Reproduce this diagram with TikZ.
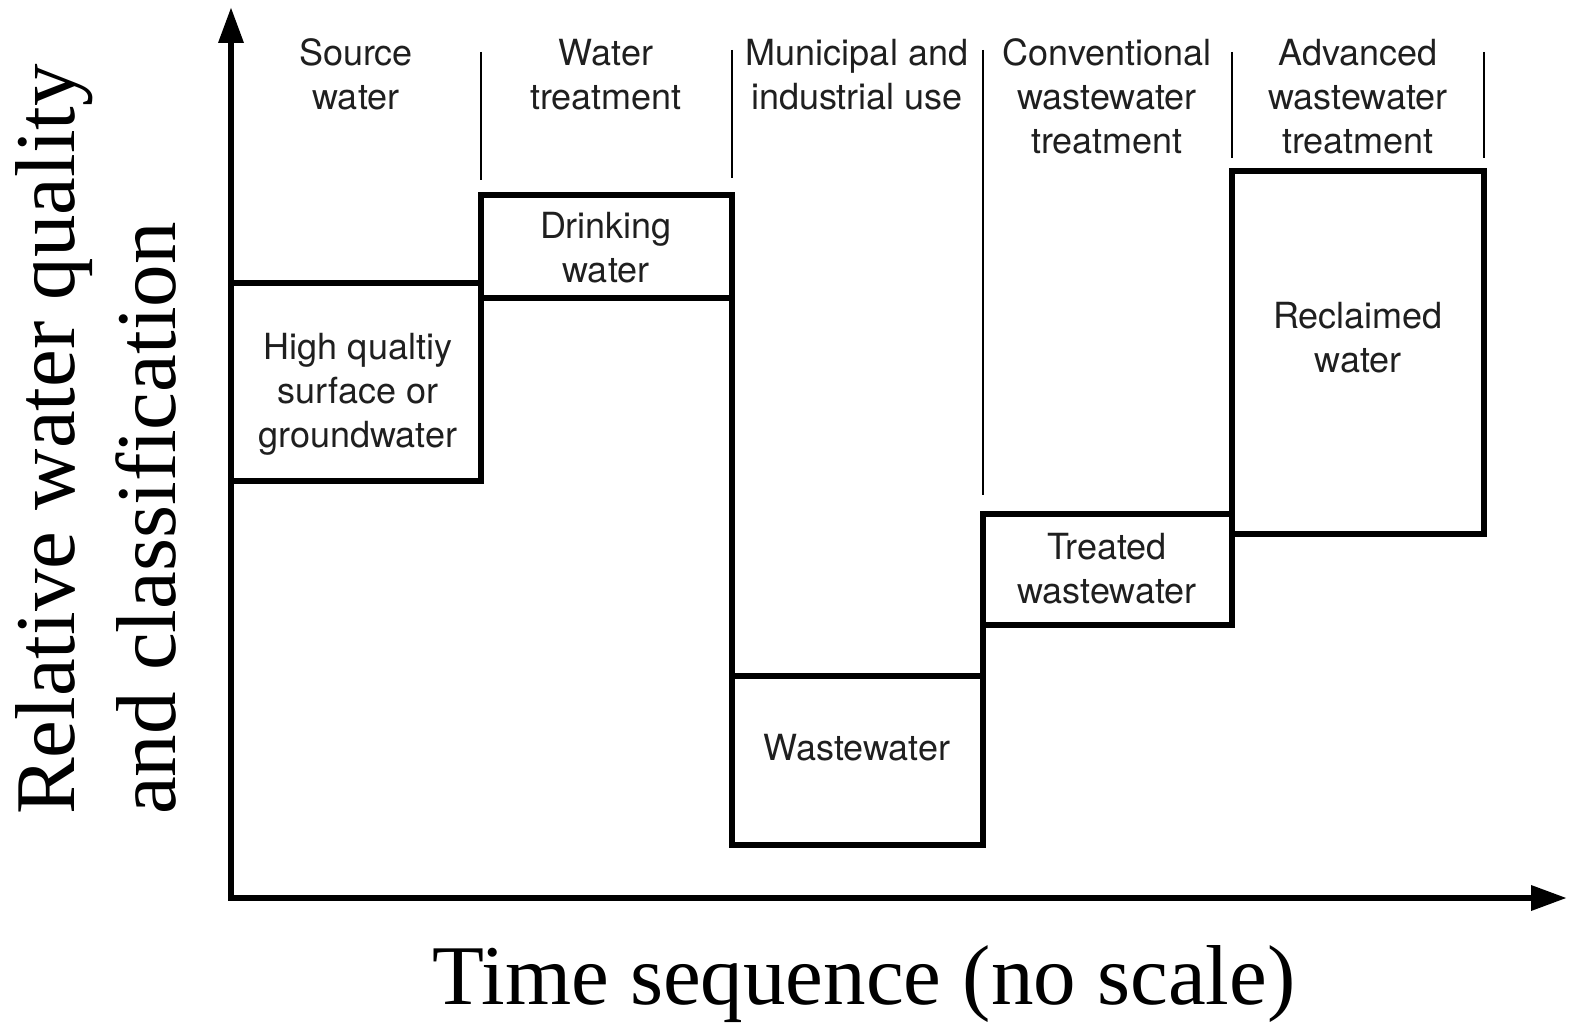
\documentclass[tikz,border=0pt]{standalone}
\usepackage{fontspec}
\setmainfont{Liberation Serif}
\newfontfamily\hvfont{TeX Gyre Heros}
\usetikzlibrary{arrows.meta}
\begin{document}
\begin{tikzpicture}[x=1pt,y=-1pt,
  lbl/.style={font=\hvfont\fontsize{36}{44}\selectfont, text=black!88, align=center, inner sep=0pt},
  stage/.style={draw, line width=5.5pt, inner sep=0pt, outer sep=0pt, anchor=north west},
  stepline/.style={line width=5.5pt},
  sepline/.style={line width=2.5pt},
  axisline/.style={line width=6.5pt, line join=miter,
    {Triangle[length=36pt,width=24pt]}-{Triangle[length=36pt,width=24pt]}},
  big/.style={font=\fontsize{85}{101}\selectfont, inner sep=0pt}]

\useasboundingbox (0,0) rectangle (1569,1024);

% stage boxes
\node[stage, minimum width=250pt, minimum height=198pt] (b1) at (231,283) {};
\node[stage, minimum width=251pt, minimum height=103pt] (b2) at (481,195) {};
\node[stage, minimum width=251pt, minimum height=169pt] (b3) at (732,676) {};
\node[stage, minimum width=249pt, minimum height=111pt] (b4) at (983,514) {};
\node[stage, minimum width=252pt, minimum height=363pt] (b5) at (1232,171) {};

% step connections
\draw[stepline] (b2.south east) -- (b3.north west);
\draw[stepline] (b4.south west) -- (b3.north east);

% separators
\draw[sepline] (481,52) -- (481,180);
\draw[sepline] (732,50) -- (732,178);
\draw[sepline] (983,50) -- (983,495);
\draw[sepline] (1232,52) -- (1232,158);
\draw[sepline] (1484,52) -- (1484,158);

% axes
\coordinate (O) at (231,898);
\coordinate (ytip) at (231,7);
\coordinate (xtip) at (1567,898);
\draw[axisline] (ytip) -- (O) -- (xtip);

% headers
\node[lbl] (h1) at (356,79) {\strut Source\\\strut water};
\node[lbl] (h2) at (606,79) {\strut Water\\\strut treatment};
\node[lbl] (h3) at (857,79) {\strut Municipal and\\\strut industrial use};
\node[lbl] (h4) at (1107,101) {\strut Conventional\\\strut wastewater\\\strut treatment};
\node[lbl] (h5) at (1358,101) {\strut Advanced\\\strut wastewater\\\strut treatment};

% box texts
\node[lbl] (t1) at (358,395) {\strut High qualtiy\\\strut surface or\\\strut groundwater};
\node[lbl] (t2) at (606,252) {\strut Drinking\\\strut water};
\node[lbl] (t3) at (857,752) {\strut Wastewater};
\node[lbl] (t4) at (1107,573) {\strut Treated\\\strut wastewater};
\node[lbl] (t5) at (1358,342) {\strut Reclaimed\\\strut water};

% axis titles
\node[big, rotate=90, anchor=base west] (yl1) at (74,815) {Relative water quality};
\node[big, rotate=90, anchor=base west] (yl2) at (175,815) {and classification};
\node[big, anchor=base] (xl) at (864,1004) {Time sequence (no scale)};
\end{tikzpicture}
\end{document}
